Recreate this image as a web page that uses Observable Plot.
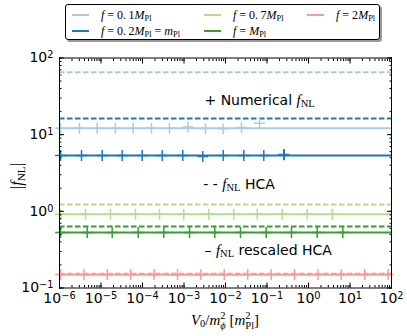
<!DOCTYPE html>
<html><head><meta charset="utf-8">
<script src="https://cdn.jsdelivr.net/npm/d3@7"></script>
<script src="https://cdn.jsdelivr.net/npm/@observablehq/plot@0.6"></script>
<style>
body{margin:0;background:#fff;}
#wrap{position:relative;width:407px;height:336px;overflow:hidden;font-family:"DejaVu Sans",sans-serif;background:#fff;}
#wrap svg{position:absolute;left:0;top:0;}
.m{font-family:"Liberation Serif",serif;}
.m i{font-style:italic;}
.m sub,.m sup{font-size:70%;line-height:0;}
.m sub{vertical-align:-0.25em;}
.m sup{vertical-align:0.45em;}
#legend{position:absolute;left:65px;top:4px;border:1px solid #000;border-radius:3px;box-shadow:2px 2px 0 #999;background:#fff;
  display:grid;grid-template-columns:132px 103px auto;grid-template-rows:16px 16px;grid-auto-flow:column;padding:2px 0 0 6px;box-sizing:border-box;width:315px;height:36px;}
.item{display:flex;align-items:center;font-size:12px;white-space:nowrap;}
.item .ln{display:inline-block;width:17px;height:2px;margin-right:12px;}
.ann{position:absolute;font-size:14px;white-space:nowrap;transform:translateY(-50%);}
.ann .m{font-size:15px;}
#ylab{position:absolute;left:17px;top:176px;transform:translate(-50%,-50%) rotate(-90deg);font-size:16px;white-space:nowrap;}
#xlab{position:absolute;left:225px;top:321px;transform:translate(-50%,-50%);font-size:15px;white-space:nowrap;}
.ss{display:inline-block;vertical-align:-0.4em;font-size:70%;line-height:0.95;text-align:left;}
.ss span{display:block;}
</style></head><body><div id="wrap"></div><script>
// ---- data ----
const seriesNames = ["f = 0.1M_Pl", "f = 0.2M_Pl = m_Pl", "f = 0.7M_Pl", "f = M_Pl", "f = 2M_Pl"];
const hcaFNL = [65.3, 16.3, 1.23, 0.634, 0.153];          // dashed: f_NL HCA
const rescaledFNL = [12.1, 5.35, 0.918, 0.53, 0.149];     // solid: f_NL rescaled HCA
// numerical f_NL points (V0/m^2, |f_NL|)
const numV0_f01 = [1.06e-6, 3.03e-6, 8.1e-6, 2.23e-5, 5.96e-5, 1.65e-4, 4.47e-4, 1.24e-3, 3.3e-3, 8.8e-3, 2.43e-2, 6.6e-2];
const numFNL_f01 = [12.1, 12.1, 12.1, 12.1, 12.1, 12.1, 12.1, 12.6, 12.0, 11.9, 12.4, 14.1];
const numV0_f02 = [1.06e-6, 3.39e-6, 1.07e-5, 3.24e-5, 9.84e-5, 2.99e-4, 9.36e-4, 2.84e-3, 8.8e-3, 2.76e-2, 8.37e-2, 0.254, 0.26];
const numFNL_f02 = [5.35, 5.35, 5.35, 5.35, 5.35, 5.35, 5.35, 5.2, 5.35, 5.35, 5.35, 5.5, 5.45];
const numV0_f07 = [1.06e-6, 4.24e-6, 1.69e-5, 6.78e-5, 2.57e-4, 9.89e-4, 3.96e-3, 1.58e-2, 5.8e-2, 0.232, 0.93, 3.73];
const numFNL_f07 = [0.918, 0.918, 0.918, 0.918, 0.918, 0.918, 0.918, 0.918, 0.918, 0.918, 0.918, 0.918];
const numV0_f1 = [1.06e-6, 4.65e-6, 1.86e-5, 7.87e-5, 3.26e-4, 1.36e-3, 5.52e-3, 2.3e-2, 9.57e-2, 0.389, 1.62, 6.71];
const numFNL_f1 = [0.53, 0.53, 0.53, 0.53, 0.53, 0.53, 0.53, 0.53, 0.53, 0.53, 0.53, 0.53];
const numV0_f2 = [1.06e-6, 3.87e-6, 1.42e-5, 5.2e-5, 1.9e-4, 6.97e-4, 2.55e-3, 9.35e-3, 3.43e-2, 0.126, 0.46, 1.69, 6.17, 22.6, 82.8];
const numFNL_f2 = [0.15, 0.15, 0.15, 0.15, 0.15, 0.15, 0.15, 0.15, 0.15, 0.15, 0.15, 0.15, 0.15, 0.15, 0.15];
const xTicks = [1e-6, 1e-5, 1e-4, 1e-3, 1e-2, 1e-1, 1e0, 1e1, 1e2];
const yTicks = [1e-1, 1e0, 1e1, 1e2];
const annotText = ["+ Numerical f_NL", "- - f_NL HCA", "\u2013 f_NL rescaled HCA"];
const annotV0 = [3.2e-3, 3.0e-3, 3.2e-3];
const annotFNL = [27.9, 2.24, 0.311];
const colors = ["#a6cee3", "#1f78b4", "#b2df8a", "#33a02c", "#fb9a99"];

// ---- build tables ----
const lines = seriesNames.map((s, i) => ({series: s, hca: hcaFNL[i], resc: rescaledFNL[i]}));
const numX = [numV0_f01, numV0_f02, numV0_f07, numV0_f1, numV0_f2];
const numY = [numFNL_f01, numFNL_f02, numFNL_f07, numFNL_f1, numFNL_f2];
const num = [];
numX.forEach((xs, i) => xs.forEach((x, j) => num.push({series: seriesNames[i], x, y: numY[i][j]})));
const fmt = d => "10^" + Math.round(Math.log10(d));

const MAJ = 5, MIN = 2.5;
const plot = Plot.plot({
  width: 407, height: 336,
  marginLeft: 59, marginRight: 16, marginTop: 57.5, marginBottom: 48.5,
  x: {type: "log", domain: [1e-6, 1e2]},
  y: {type: "log", domain: [0.1, 100]},
  color: {domain: seriesNames, range: colors},
  style: {fontFamily: "DejaVu Sans", fontSize: "14px", background: "white", overflow: "visible"},
  marks: [
    Plot.ruleY(lines, {y: "hca", stroke: "series", strokeWidth: 2, strokeDasharray: "5.5,2.5"}),
    Plot.ruleY(lines, {y: "resc", stroke: "series", strokeWidth: 2}),
    Plot.dot(num, {x: "x", y: "y", stroke: "series", symbol: "plus", r: 3.6, strokeWidth: 1.5}),
    // minor ticks (inward, all sides)
    Plot.axisX({anchor: "bottom", ticks: 40, tickSize: MIN, dy: -MIN, tickFormat: () => "", label: null}),
    Plot.axisX({anchor: "top", ticks: 40, tickSize: MIN, dy: MIN, tickFormat: () => "", label: null}),
    Plot.axisY({anchor: "left", ticks: 40, tickSize: MIN, dx: MIN, tickFormat: () => "", label: null}),
    Plot.axisY({anchor: "right", ticks: 40, tickSize: MIN, dx: -MIN, tickFormat: () => "", label: null}),
    // major ticks
    Plot.axisX(xTicks, {anchor: "bottom", tickSize: MAJ, dy: -MAJ, tickFormat: () => "", label: null}),
    Plot.axisX(xTicks, {anchor: "top", tickSize: MAJ, dy: MAJ, tickFormat: () => "", label: null}),
    Plot.axisY(yTicks, {anchor: "left", tickSize: MAJ, dx: MAJ, tickFormat: () => "", label: null}),
    Plot.axisY(yTicks, {anchor: "right", tickSize: MAJ, dx: -MAJ, tickFormat: () => "", label: null}),
    // tick labels
    Plot.axisX(xTicks, {anchor: "bottom", tickSize: 0, tickPadding: 5, tickFormat: fmt, label: null, fontSize: 14}),
    Plot.axisY(yTicks, {anchor: "left", tickSize: 0, tickPadding: 6, tickFormat: fmt, label: null, fontSize: 14}),
    Plot.frame({stroke: "black", strokeWidth: 1})
  ]
});

// superscripts in tick labels
plot.querySelectorAll('g[aria-label="x-axis tick label"] text, g[aria-label="y-axis tick label"] text').forEach(t => {
  const s = t.textContent;
  if (!s.includes("^")) return;
  const [b, e] = s.split("^");
  t.textContent = b;
  const ts = document.createElementNS("http://www.w3.org/2000/svg", "tspan");
  ts.setAttribute("dy", "-0.42em");
  ts.setAttribute("font-size", "70%");
  ts.textContent = e.replace("-", "\u2212");
  t.appendChild(ts);
});

const wrap = document.getElementById("wrap");
wrap.appendChild(plot);

function mathHTML(s) {
  return s.replace(/\.(\d)/g, ".\u2009$1")
    .replace(/([fMm])_(\w+)/g, "<i>$1</i><sub>$2</sub>")
    .replace(/(^|\s)f(?=\s)/g, "$1<i>f</i>");
}

// legend
const legend = document.createElement("div");
legend.id = "legend";
seriesNames.forEach((s, i) => {
  const it = document.createElement("div");
  it.className = "item";
  it.innerHTML = `<span class="ln" style="background:${colors[i]}"></span><span class="m">${mathHTML(s)}</span>`;
  legend.appendChild(it);
});
wrap.appendChild(legend);

// annotations placed via plot scales
const xs = plot.scale("x"), ys = plot.scale("y");
annotText.forEach((t, i) => {
  const d = document.createElement("div");
  d.className = "ann";
  d.style.left = xs.apply(annotV0[i]) + "px";
  d.style.top = ys.apply(annotFNL[i]) + "px";
  d.innerHTML = t.replace("f_NL", '<span class="m"><i>f</i><sub>NL</sub></span>');
  wrap.appendChild(d);
});

// axis labels
const yl = document.createElement("div");
yl.id = "ylab"; yl.className = "m";
yl.innerHTML = "|<i>f</i><sub>NL</sub>|";
wrap.appendChild(yl);
const xl = document.createElement("div");
xl.id = "xlab"; xl.className = "m";
xl.innerHTML = '<i>V</i><sub>0</sub>/<i>m</i><span class="ss"><span>2</span><span><i>\u03d5</i></span></span> [<i>m</i><span class="ss"><span>2</span><span>Pl</span></span>]';
wrap.appendChild(xl);
</script></body></html>
